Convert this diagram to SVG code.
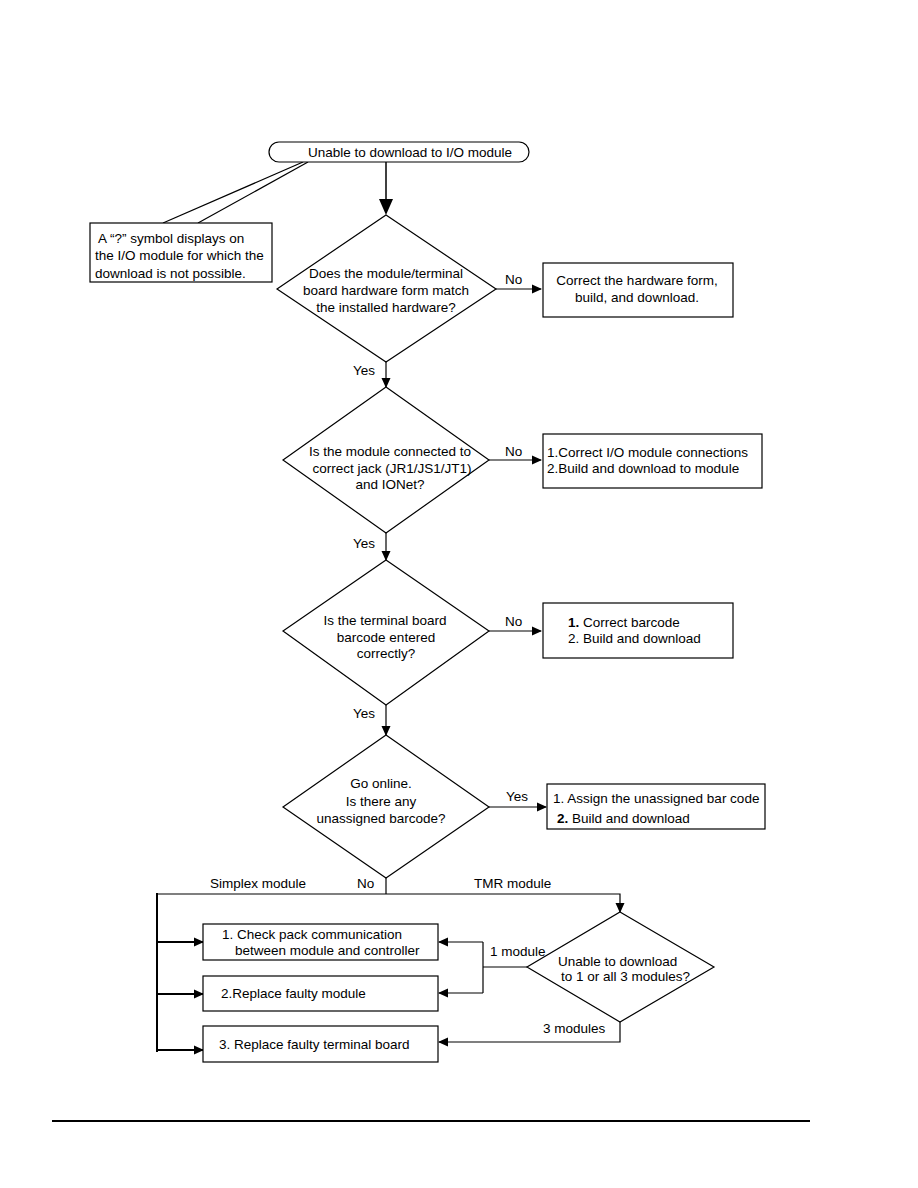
<svg xmlns="http://www.w3.org/2000/svg" width="918" height="1188" viewBox="0 0 918 1188">
<style>
text{font-family:"Liberation Sans",Arial,sans-serif;font-size:13.5px;fill:#000}
.m{text-anchor:middle}
.shape{fill:#fff;stroke:#000;stroke-width:1.2}
.ln{fill:none;stroke:#000;stroke-width:1.2}
.thk{fill:none;stroke:#000;stroke-width:2}
</style>
<defs>
<marker id="ah" markerWidth="10" markerHeight="10" refX="9" refY="5" orient="auto" markerUnits="userSpaceOnUse"><path d="M0,0.5 L10,5 L0,9.5 Z" fill="#000"/></marker>
</defs>
<rect width="918" height="1188" fill="#fff"/>

<g id="connectors">
<polyline class="ln" points="163,223 303,162"/>
<polyline class="ln" points="198,223 308,162"/>
<line x1="386" y1="162" x2="386" y2="200" stroke="#000" stroke-width="1.5"/>
<path d="M379,199 L393,199 L386,215 Z" fill="#000"/>
<line class="ln" x1="496" y1="289" x2="541" y2="289" marker-end="url(#ah)"/>
<line class="ln" x1="386" y1="362" x2="386" y2="387" marker-end="url(#ah)"/>
<line class="ln" x1="489" y1="460" x2="541" y2="460" marker-end="url(#ah)"/>
<line class="ln" x1="386" y1="533" x2="386" y2="560" marker-end="url(#ah)"/>
<line class="ln" x1="489" y1="631" x2="541" y2="631" marker-end="url(#ah)"/>
<line class="ln" x1="386" y1="705" x2="386" y2="735" marker-end="url(#ah)"/>
<line class="ln" x1="489" y1="807" x2="546" y2="807" marker-end="url(#ah)"/>
<polyline class="ln" points="386,878 386,894"/>
<polyline class="ln" points="157,894 620,894 620,912" marker-end="url(#ah)"/>
<line class="thk" x1="157" y1="893" x2="157" y2="1052"/>
<line class="thk" x1="157" y1="942" x2="203" y2="942" marker-end="url(#ah)"/>
<line class="thk" x1="157" y1="994" x2="203" y2="994" marker-end="url(#ah)"/>
<line class="thk" x1="157" y1="1050" x2="203" y2="1050" marker-end="url(#ah)"/>
<polyline class="ln" points="527,967 483,967"/>
<polyline class="ln" points="483,942 483,993"/>
<line class="ln" x1="483" y1="942" x2="439" y2="942" marker-end="url(#ah)"/>
<line class="ln" x1="483" y1="993" x2="439" y2="993" marker-end="url(#ah)"/>
<polyline class="ln" points="620,1022 620,1042 439,1042" marker-end="url(#ah)"/>
</g>

<g id="start">
<rect class="shape" x="269" y="142" width="260" height="20" rx="10" ry="10"/>
<text class="m" x="410" y="157">Unable to download to I/O module</text>
</g>

<g id="note">
<rect class="shape" x="90" y="223" width="182" height="59"/>
<text x="98" y="243">A “?” symbol displays on</text>
<text x="95" y="260">the I/O module for which the</text>
<text x="95" y="278">download is not possible.</text>
</g>

<g id="d1">
<polygon class="shape" points="386,215 496,289 386,362 277,289"/>
<text class="m" x="386" y="278">Does the module/terminal</text>
<text class="m" x="386" y="295">board hardware form match</text>
<text class="m" x="386" y="312">the installed hardware?</text>
</g>
<g id="b1">
<rect class="shape" x="543" y="263" width="190" height="54"/>
<text class="m" x="637" y="285">Correct the hardware form,</text>
<text class="m" x="637" y="302">build, and download.</text>
</g>

<g id="d2">
<polygon class="shape" points="386,387 489,460 386,533 283,460"/>
<text class="m" x="390" y="456">Is the module connected to</text>
<text class="m" x="392" y="473">correct jack (JR1/JS1/JT1)</text>
<text class="m" x="390" y="489">and IONet?</text>
</g>
<g id="b2">
<rect class="shape" x="543" y="434" width="219" height="54"/>
<text x="547" y="457">1.Correct I/O module connections</text>
<text x="547" y="473">2.Build and download to module</text>
</g>

<g id="d3">
<polygon class="shape" points="386,560 489,631 386,705 283,631"/>
<text class="m" x="385" y="625">Is the terminal board</text>
<text class="m" x="386" y="642">barcode entered</text>
<text class="m" x="386" y="658">correctly?</text>
</g>
<g id="b3">
<rect class="shape" x="543" y="603" width="190" height="55"/>
<text x="568" y="627"><tspan font-weight="bold">1.</tspan> Correct barcode</text>
<text x="568" y="643">2. Build and download</text>
</g>

<g id="d4">
<polygon class="shape" points="386,735 489,807 386,878 283,807"/>
<text class="m" x="381" y="788">Go online.</text>
<text class="m" x="381" y="806">Is there any</text>
<text class="m" x="381" y="823">unassigned barcode?</text>
</g>
<g id="b4">
<rect class="shape" x="547" y="784" width="218" height="45"/>
<text x="553" y="803">1. Assign the unassigned bar code</text>
<text x="557" y="823"><tspan font-weight="bold">2.</tspan> Build and download</text>
</g>

<g id="d5">
<polygon class="shape" points="620,912 714,967 620,1022 527,967"/>
<text x="558" y="966">Unable to download</text>
<text x="561" y="981">to 1 or all 3 modules?</text>
</g>

<g id="bA">
<rect class="shape" x="203" y="924" width="235" height="36"/>
<text x="222" y="939">1. Check pack communication</text>
<text x="235" y="955">between module and controller</text>
</g>
<g id="bB">
<rect class="shape" x="203" y="976" width="235" height="35"/>
<text x="221" y="998">2.Replace faulty module</text>
</g>
<g id="bC">
<rect class="shape" x="203" y="1026" width="235" height="36"/>
<text x="219" y="1049">3. Replace faulty terminal board</text>
</g>

<g id="labels">
<text x="505" y="284">No</text>
<text x="353" y="375">Yes</text>
<text x="505" y="456">No</text>
<text x="353" y="548">Yes</text>
<text x="505" y="626">No</text>
<text x="353" y="718">Yes</text>
<text x="506" y="801">Yes</text>
<text x="357" y="888">No</text>
<text x="210" y="888">Simplex module</text>
<text x="474" y="888">TMR module</text>
<text x="490" y="956">1 module</text>
<text x="543" y="1033">3 modules</text>
</g>

<line x1="52" y1="1121" x2="810" y2="1121" stroke="#000" stroke-width="2"/>
</svg>
